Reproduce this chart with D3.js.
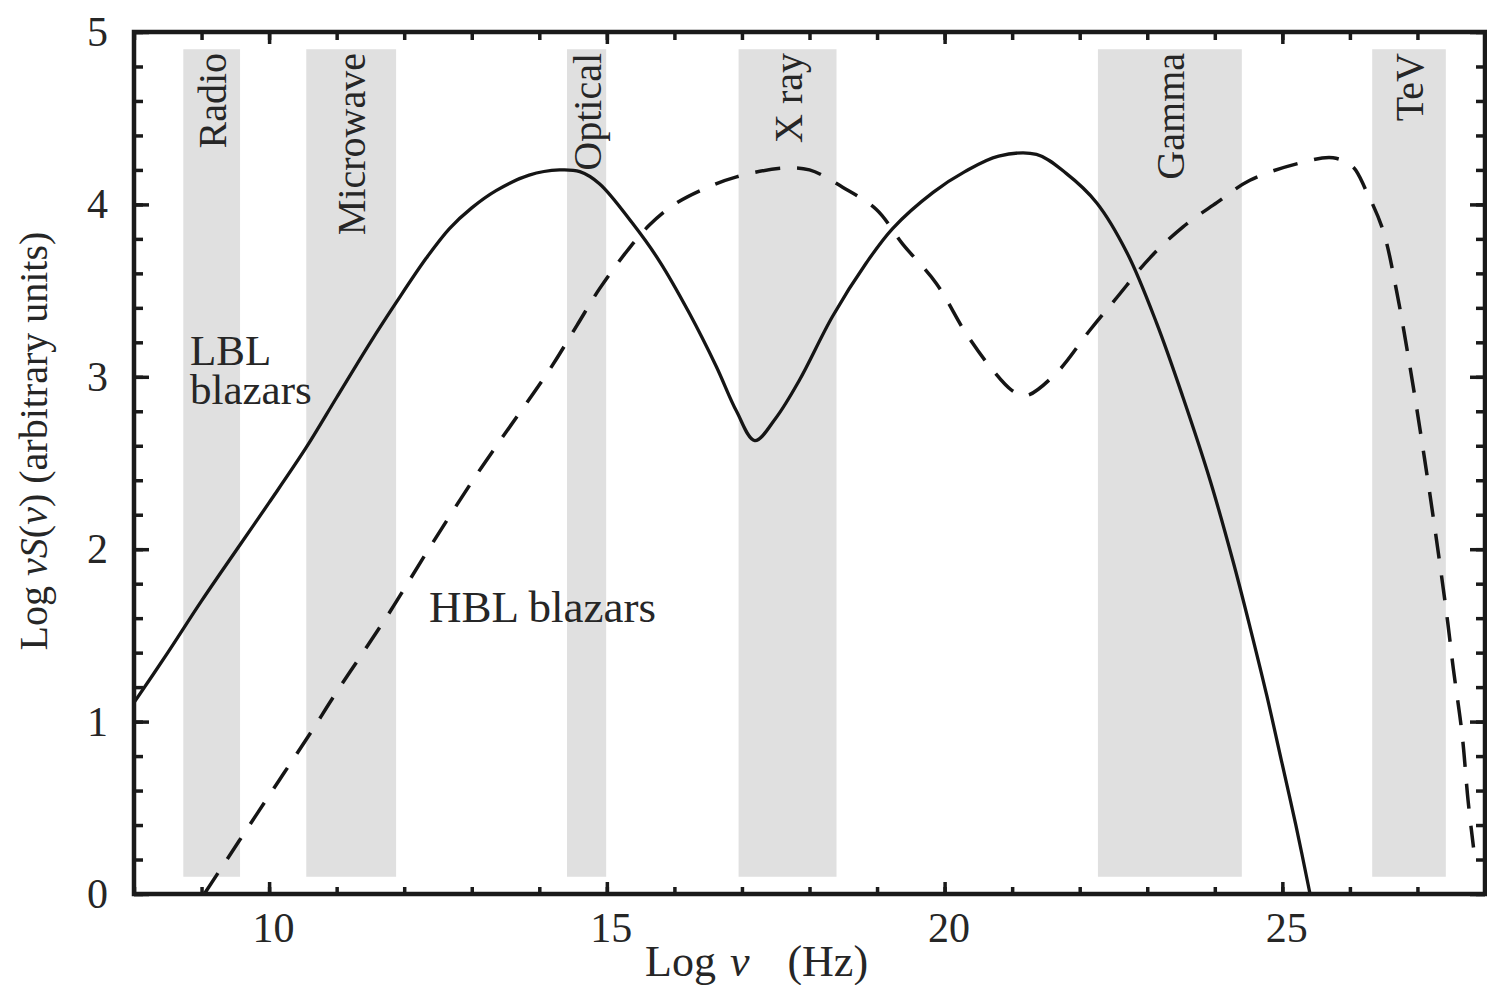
<!DOCTYPE html>
<html>
<head>
<meta charset="utf-8">
<script src="https://cdn.jsdelivr.net/npm/d3@7"></script>
<style>
  html, body { margin: 0; padding: 0; background: #fff; }
  svg { display: block; }
  text { font-family: "Liberation Serif", "Times New Roman", serif; fill: #262626; }
</style>
</head>
<body>
<svg id="chart" width="1487" height="985"></svg>
<script>
// Spectral bands (log10 frequency ranges, Hz)
const bandNames = ["Radio", "Microwave", "Optical", "X ray", "Gamma", "TeV"];
const bandStart = [8.73, 10.55, 14.41, 16.95, 22.27, 26.33];
const bandEnd   = [9.57, 11.88, 14.99, 18.40, 24.40, 27.42];

// LBL blazars SED (solid): log nu, log nuS(nu)
const lblX = [8.0, 8.5, 9.0, 9.56, 10.0, 10.55, 11.0, 11.5, 11.88, 12.33, 12.67, 13.0, 13.36, 13.85, 14.3, 14.6,
              14.89, 15.38, 15.78, 16.22, 16.62, 16.92, 17.19, 17.5, 17.85, 18.34, 18.84, 19.23, 19.83, 20.3,
              20.8, 21.36, 21.8, 22.25, 22.7, 23.14, 23.53, 23.93, 24.27, 24.52, 24.77, 25.0, 25.2, 25.41];
const lblY = [1.11, 1.40, 1.70, 2.02, 2.27, 2.59, 2.88, 3.20, 3.43, 3.69, 3.86, 3.98, 4.08, 4.17, 4.20, 4.19,
              4.12, 3.89, 3.67, 3.37, 3.06, 2.80, 2.63, 2.76, 2.98, 3.35, 3.66, 3.86, 4.07, 4.19,
              4.28, 4.29, 4.18, 4.01, 3.72, 3.31, 2.88, 2.40, 1.93, 1.55, 1.15, 0.75, 0.40, 0.0];

// HBL blazars SED (dashed)
const hblX = [9.04, 9.56, 10.15, 10.64, 10.93, 11.44, 11.81, 12.33, 13.0, 13.42, 14.15, 14.56, 14.89, 15.28, 15.63,
              16.0, 16.5, 16.92, 17.6, 18.0, 18.49, 18.99, 19.38, 19.88, 20.32, 20.71, 21.0, 21.2, 21.65, 22.15,
              22.55, 23.04, 23.53, 24.03, 24.52, 25.26, 25.75, 26.04, 26.24, 26.49, 26.69, 26.88, 27.04, 27.18,
              27.33, 27.45, 27.53, 27.66, 27.75, 27.83];
const hblY = [0.0, 0.31, 0.66, 0.95, 1.13, 1.43, 1.65, 1.98, 2.39, 2.63, 3.04, 3.30, 3.51, 3.72, 3.88,
              4.00, 4.10, 4.16, 4.21, 4.20, 4.10, 3.97, 3.77, 3.54, 3.25, 3.04, 2.92, 2.89, 3.02, 3.27,
              3.46, 3.69, 3.87, 4.01, 4.14, 4.24, 4.27, 4.22, 4.08, 3.85, 3.50, 3.08, 2.69, 2.33,
              1.92, 1.57, 1.31, 0.93, 0.54, 0.27];

// Axis ticks
const xMajorTicks = [10, 15, 20, 25];
const xMinorTicks = d3.range(8, 29, 1);
const yMajorTicks = [0, 1, 2, 3, 4, 5];
const yMinorTicks = d3.range(0, 5.0001, 0.2).map(v => +v.toFixed(1));

const svg = d3.select("#chart");
const plot = { left: 134, right: 1485, top: 32, bottom: 894 };

const x = d3.scaleLinear().domain([8, 28]).range([plot.left, plot.right]);
const y = d3.scaleLinear().domain([0, 5]).range([plot.bottom, plot.top]);

// Shaded bands
const bandTop = 4.9, bandBottom = 0.1;
const bands = bandNames.map((n, i) => ({ name: n, x0: bandStart[i], x1: bandEnd[i] }));
svg.append("g").selectAll("rect").data(bands).join("rect")
  .attr("x", d => x(d.x0))
  .attr("y", y(bandTop))
  .attr("width", d => x(d.x1) - x(d.x0))
  .attr("height", y(bandBottom) - y(bandTop))
  .attr("fill", "#e0e0e0");

svg.append("g").selectAll("text").data(bands).join("text")
  .attr("transform", d => `translate(${(x(d.x0) + x(d.x1)) / 2 + 14},53) rotate(-90)`)
  .attr("text-anchor", "end")
  .style("font-size", "40px")
  .text(d => d.name);

// Curves
const line = d3.line().x(d => x(d[0])).y(d => y(d[1])).curve(d3.curveCatmullRom.alpha(0.5));
const lbl = lblX.map((v, i) => [v, lblY[i]]);
const hbl = hblX.map((v, i) => [v, hblY[i]]);

svg.append("path").datum(lbl)
  .attr("d", line)
  .attr("fill", "none")
  .attr("stroke", "#151515")
  .attr("stroke-width", 3.3)
  .attr("stroke-linejoin", "round");

svg.append("path").datum(hbl)
  .attr("d", line)
  .attr("fill", "none")
  .attr("stroke", "#151515")
  .attr("stroke-width", 3.5)
  .attr("stroke-dasharray", "25,17");

// Axes with inward ticks on all four sides
function styleAxis(g) {
  g.select(".domain").remove();
  g.selectAll(".tick line").attr("stroke", "#1a1a1a").attr("stroke-width", 3.5);
}

svg.append("g").attr("transform", `translate(${plot.left},0)`)
  .call(d3.axisLeft(y).tickValues(yMinorTicks).tickSize(-9).tickFormat(""))
  .call(styleAxis);
svg.append("g").attr("transform", `translate(${plot.right},0)`)
  .call(d3.axisRight(y).tickValues(yMinorTicks).tickSize(-9).tickFormat(""))
  .call(styleAxis);
svg.append("g").attr("transform", `translate(${plot.right},0)`)
  .call(d3.axisRight(y).tickValues(yMajorTicks).tickSize(-15).tickFormat(""))
  .call(styleAxis);

const yAxis = svg.append("g").attr("transform", `translate(${plot.left},0)`)
  .call(d3.axisLeft(y).tickValues(yMajorTicks).tickSize(-15).tickPadding(26).tickFormat(d3.format("d")))
  .call(styleAxis);
yAxis.selectAll(".tick text")
  .attr("fill", "#262626")
  .style("font-size", "42px")
  .style("font-family", "'Liberation Serif', 'Times New Roman', serif");

svg.append("g").attr("transform", `translate(0,${plot.bottom})`)
  .call(d3.axisBottom(x).tickValues(xMinorTicks).tickSize(-7).tickFormat(""))
  .call(styleAxis);
svg.append("g").attr("transform", `translate(0,${plot.top})`)
  .call(d3.axisTop(x).tickValues(xMinorTicks).tickSize(-8).tickFormat(""))
  .call(styleAxis);
svg.append("g").attr("transform", `translate(0,${plot.top})`)
  .call(d3.axisTop(x).tickValues(xMajorTicks).tickSize(-12).tickFormat(""))
  .call(styleAxis);

const xAxis = svg.append("g").attr("transform", `translate(0,${plot.bottom})`)
  .call(d3.axisBottom(x).tickValues(xMajorTicks).tickSize(-12).tickFormat(d3.format("d")))
  .call(styleAxis);
xAxis.selectAll(".tick text")
  .attr("fill", "#262626")
  .attr("y", 48).attr("dy", null).attr("dx", 4)
  .style("font-size", "42px")
  .style("font-family", "'Liberation Serif', 'Times New Roman', serif");

// Frame
svg.append("rect")
  .attr("x", plot.left).attr("y", plot.top)
  .attr("width", plot.right - plot.left).attr("height", plot.bottom - plot.top)
  .attr("fill", "none")
  .attr("stroke", "#1a1a1a")
  .attr("stroke-width", 4.5);

// Axis titles
const xt = svg.append("text").attr("x", 645).attr("y", 976).style("font-size", "44px");
xt.append("tspan").text("Log");
xt.append("tspan").attr("dx", 14).style("font-style", "italic").text("ν");
xt.append("tspan").attr("dx", 38).text("(Hz)");

const yt = svg.append("text")
  .attr("transform", "translate(47,441) rotate(-90)")
  .attr("text-anchor", "middle")
  .style("font-size", "40px");
yt.append("tspan").text("Log ");
yt.append("tspan").style("font-style", "italic").text("νS");
yt.append("tspan").text("(");
yt.append("tspan").style("font-style", "italic").text("ν");
yt.append("tspan").text(") (arbitrary units)");

// Curve labels
const lblLabel = svg.append("text").attr("x", 190).attr("y", 365).style("font-size", "43px");
lblLabel.append("tspan").attr("x", 190).text("LBL");
lblLabel.append("tspan").attr("x", 190).attr("dy", 39).text("blazars");
svg.append("text").attr("x", 429).attr("y", 622).style("font-size", "45px").text("HBL blazars");
</script>
</body>
</html>
